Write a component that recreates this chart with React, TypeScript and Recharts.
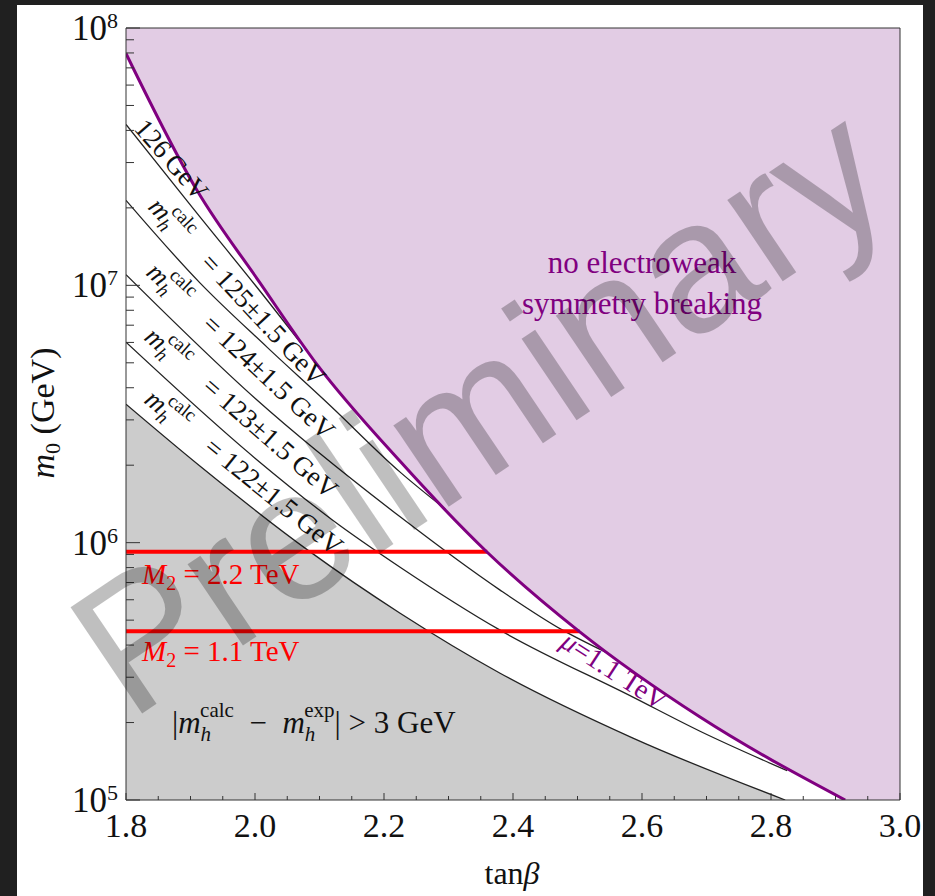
import React from "react";
import {
  ComposedChart,
  Area,
  Line,
  XAxis,
  YAxis,
  ReferenceLine,
} from "recharts";

// boundary of the "no electroweak symmetry breaking" region (mu = 1.1 TeV)
const ewsbTanBeta = [1.8, 1.91, 2.008, 2.096, 2.225, 2.36, 2.504, 2.69, 2.915];
const ewsbM0 = [7.96e7, 2.34e7, 1.02e7, 4.93e6, 2.07e6, 9.18e5, 4.49e5, 2.1e5, 1.0e5];

// m_h^calc contours, from the top one down to the grey region edge
const edgeATanBeta = [1.8, 1.904, 2.019, 2.07];
const edgeAM0 = [4.22e7, 1.99e7, 8.75e6, 6.01e6];
const edgeBTanBeta = [1.8, 1.915, 2.019, 2.116, 2.225, 2.295];
const edgeBM0 = [2.14e7, 1.02e7, 5.74e6, 3.42e6, 1.88e6, 1.35e6];
const edgeCTanBeta = [1.8, 2.0, 2.225, 2.38, 2.477, 2.543];
const edgeCM0 = [1.1e7, 3.64e6, 1.26e6, 6.54e5, 4.57e5, 3.76e5];
const edgeDTanBeta = [1.8, 2.0, 2.121, 2.225, 2.38, 2.586, 2.69, 2.825];
const edgeDM0 = [6.01e6, 2.13e6, 1.22e6, 8.03e5, 4.57e5, 2.51e5, 1.85e5, 1.3e5];
const greyTanBeta = [1.8, 1.915, 2.084, 2.225, 2.38, 2.586, 2.822];
const greyM0 = [3.45e6, 1.98e6, 9.27e5, 5.32e5, 3.11e5, 1.74e5, 1.0e5];

// wino mass lines
const m2Values = ["2.2", "1.1"];
const m2M0 = [9.22e5, 4.53e5];
const m2EndTanBeta = [2.36, 2.503];

const calcBands = ["125±1.5", "124±1.5", "123±1.5", "122±1.5"];

const xTicks = [
  1.8, 1.85, 1.9, 1.95, 2.0, 2.05, 2.1, 2.15, 2.2, 2.25, 2.3, 2.35, 2.4, 2.45,
  2.5, 2.55, 2.6, 2.65, 2.7, 2.75, 2.8, 2.85, 2.9, 2.95, 3.0,
];
const yDecades = [1e5, 1e6, 1e7];
const yTicks = [...yDecades.flatMap((d) => [1, 2, 3, 4, 5, 6, 7, 8, 9].map((k) => k * d)), 1e8];

const SERIF = '"Liberation Serif", "Times New Roman", serif';
const PURPLE = "#800080";
const LILAC = "#e2cce4";

const pts = (xs: number[], ys: number[]) => xs.map((x, i) => ({ x, y: ys[i] }));

const lastEwsb = ewsbTanBeta.length - 1;
const ewsbFill = ewsbTanBeta.map((x, i) => ({ x, r: [ewsbM0[i], 1e8] }));
// right-hand corner of the region, overlapping the curved part so no seam shows
const ewsbTail = [
  { x: ewsbTanBeta[lastEwsb - 1], r: [ewsbM0[lastEwsb - 1], 1e8] },
  { x: ewsbTanBeta[lastEwsb], r: [1e5, 1e8] },
  { x: 3.0, r: [1e5, 1e8] },
];
const greyFill = greyTanBeta.map((x, i) => ({ x, r: [1e5, greyM0[i]] }));

function XTick(props: any) {
  const { x, y, payload } = props;
  const v: number = payload.value;
  const major = Math.abs(v * 5 - Math.round(v * 5)) < 1e-6;
  return (
    <g>
      <line x1={x} x2={x} y1={y} y2={y - (major ? 7 : 4)} stroke="#333" />
      {major && (
        <text x={x} y={y + 37} textAnchor="middle" fontFamily={SERIF} fontSize={34} fill="#111">
          {v.toFixed(1)}
        </text>
      )}
    </g>
  );
}

function YTick(props: any) {
  const { x, y, payload } = props;
  const v: number = payload.value;
  const exp = Math.round(Math.log10(v));
  const major = Math.abs(v - Math.pow(10, exp)) < 1e-6 * v;
  return (
    <g>
      <line x1={x} x2={x + (major ? 14 : 8)} y1={y} y2={y} stroke="#333" />
      {major && (
        <text x={x - 8} y={y + 12} textAnchor="end" fontFamily={SERIF} fontSize={35} fill="#111">
          10
          <tspan fontSize={22} dy={-12}>
            {exp}
          </tspan>
        </text>
      )}
    </g>
  );
}

function CalcLabel({ x, y, angle, text }: { x: number; y: number; angle: number; text: string }) {
  return (
    <text x={x} y={y} transform={`rotate(${angle} ${x} ${y})`} fontFamily={SERIF} fontSize={27} fill="#111">
      <tspan fontStyle="italic">m</tspan>
      <tspan fontStyle="italic" fontSize={19} dy={6}>
        h
      </tspan>
      <tspan fontSize={19} dx={-10} dy={-20}>
        calc
      </tspan>
      <tspan dy={14}>{"\u2003= " + text + " GeV"}</tspan>
    </text>
  );
}

function Annotations() {
  const labelPos = [
    { x: 147, y: 208, a: 47 },
    { x: 145, y: 274, a: 43 },
    { x: 143, y: 339, a: 41 },
    { x: 143, y: 402, a: 39 },
  ];
  return (
    <svg width={935} height={896} style={{ position: "absolute", left: 0, top: 0, pointerEvents: "none" }}>
      {/* axis titles */}
      <text x={54} y={413} transform="rotate(-90 54 413)" textAnchor="middle" fontFamily={SERIF} fontSize={34} fill="#111">
        <tspan fontStyle="italic">m</tspan>
        <tspan fontSize={22} dy={6}>0</tspan>
        <tspan dy={-6}>{" (GeV)"}</tspan>
      </text>
      <text x={512} y={884} textAnchor="middle" fontFamily={SERIF} fontSize={32} fill="#111">
        tan<tspan fontStyle="italic">β</tspan>
      </text>

      <text x={133} y={129} transform="rotate(49 133 129)" fontFamily={SERIF} fontSize={27} fill="#111">
        {"126\u2009GeV"}
      </text>
      {calcBands.map((t, i) => (
        <CalcLabel key={t} x={labelPos[i].x} y={labelPos[i].y} angle={labelPos[i].a} text={t} />
      ))}

      <text x={642} y={273} textAnchor="middle" fontFamily={SERIF} fontSize={31} fill={PURPLE}>
        no electroweak
      </text>
      <text x={642} y={314} textAnchor="middle" fontFamily={SERIF} fontSize={31} fill={PURPLE}>
        symmetry breaking
      </text>
      <text x={559} y={646} transform="rotate(33 559 646)" fontFamily={SERIF} fontSize={28} fill={PURPLE}>
        <tspan fontStyle="italic">μ</tspan>=1.1 TeV
      </text>

      {m2Values.map((v, i) => (
        <text key={v} x={142} y={i === 0 ? 584 : 661} fontFamily={SERIF} fontSize={29} fill="#ff0000">
          <tspan fontStyle="italic">M</tspan>
          <tspan fontSize={20} dy={6}>2</tspan>
          <tspan dy={-6}>{" = " + v + " TeV"}</tspan>
        </text>
      ))}

      <text x={172} y={733} fontFamily={SERIF} fontSize={31} fill="#111">
        |<tspan fontStyle="italic">m</tspan>
        <tspan fontStyle="italic" fontSize={21} dy={8}>h</tspan>
        <tspan fontSize={21} dx={-11} dy={-24}>calc</tspan>
        <tspan dy={16}>{"\u2002\u2212\u2002"}</tspan>
        <tspan fontStyle="italic">m</tspan>
        <tspan fontStyle="italic" fontSize={21} dy={8}>h</tspan>
        <tspan fontSize={21} dx={-11} dy={-24}>exp</tspan>
        <tspan dy={16}>{"| > 3 GeV"}</tspan>
      </text>

      <text
        x={515}
        y={462}
        transform="rotate(-34 515 462)"
        textAnchor="middle"
        fontFamily='"Liberation Sans", Arial, sans-serif'
        fontSize={186}
        fill="#000"
        fillOpacity={0.25}
      >
        Preliminary
      </text>
    </svg>
  );
}

export default function App() {
  return (
    <div style={{ position: "absolute", left: 0, top: 0, width: 935, height: 896, background: "#202020", overflow: "hidden" }}>
      <div style={{ position: "absolute", left: 17, top: 5, width: 906, height: 891, background: "#fff" }} />
      <div style={{ position: "absolute", left: 0, top: 0 }}>
        <ComposedChart width={935} height={896} margin={{ top: 28, right: 35, bottom: 0, left: 0 }}>
          <Area data={ewsbFill} dataKey="r" type="monotone" fill={LILAC} fillOpacity={1} stroke="none" isAnimationActive={false} />
          <Area data={ewsbTail} dataKey="r" type="linear" fill={LILAC} fillOpacity={1} stroke="none" isAnimationActive={false} />
          <Area data={greyFill} dataKey="r" type="monotone" fill="#cccccc" fillOpacity={1} stroke="none" isAnimationActive={false} />

          <Line data={pts(edgeATanBeta, edgeAM0)} dataKey="y" type="monotone" stroke="#222" strokeWidth={1.3} dot={false} isAnimationActive={false} />
          <Line data={pts(edgeBTanBeta, edgeBM0)} dataKey="y" type="monotone" stroke="#222" strokeWidth={1.3} dot={false} isAnimationActive={false} />
          <Line data={pts(edgeCTanBeta, edgeCM0)} dataKey="y" type="monotone" stroke="#222" strokeWidth={1.3} dot={false} isAnimationActive={false} />
          <Line data={pts(edgeDTanBeta, edgeDM0)} dataKey="y" type="monotone" stroke="#222" strokeWidth={1.3} dot={false} isAnimationActive={false} />
          <Line data={pts(greyTanBeta, greyM0)} dataKey="y" type="monotone" stroke="#222" strokeWidth={1.3} dot={false} isAnimationActive={false} />

          {m2M0.map((m, i) => (
            <Line
              key={m2Values[i]}
              data={[{ x: 1.8, y: m }, { x: m2EndTanBeta[i], y: m }]}
              dataKey="y"
              type="linear"
              stroke="#ff0000"
              strokeWidth={4}
              dot={false}
              isAnimationActive={false}
            />
          ))}

          <Line data={pts(ewsbTanBeta, ewsbM0)} dataKey="y" type="monotone" stroke={PURPLE} strokeWidth={3} dot={false} isAnimationActive={false} />

          <ReferenceLine y={1e8} stroke="#333" />
          <ReferenceLine x={3.0} stroke="#333" />

          <XAxis
            type="number"
            dataKey="x"
            domain={[1.8, 3.0]}
            ticks={xTicks}
            interval={0}
            allowDataOverflow
            height={96}
            tickSize={0}
            tickMargin={0}
            tickLine={false}
            axisLine={{ stroke: "#333" }}
            tick={<XTick />}
          />
          <YAxis
            type="number"
            scale="log"
            domain={[1e5, 1e8]}
            ticks={yTicks}
            interval={0}
            allowDataOverflow
            width={126}
            tickSize={0}
            tickMargin={0}
            tickLine={false}
            axisLine={{ stroke: "#333" }}
            tick={<YTick />}
          />
        </ComposedChart>
      </div>
      <Annotations />
    </div>
  );
}
